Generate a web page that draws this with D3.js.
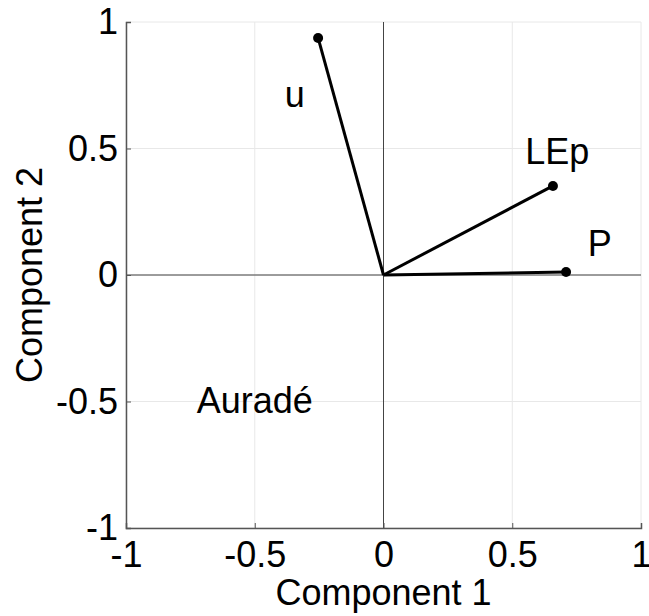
<!DOCTYPE html>
<html><head><meta charset="utf-8">
<script src="https://cdn.jsdelivr.net/npm/d3@7"></script>
<style>body{margin:0;background:#fff}</style>
</head><body>
<svg id="c" width="649" height="616"></svg>
<script>
const names = ["u", "LEp", "P"];
const comp1 = [-0.254, 0.658, 0.709];
const comp2 = [0.937, 0.352, 0.012];
const ticks = [-1, -0.5, 0, 0.5, 1];
const tickLabels = ["-1", "-0.5", "0", "0.5", "1"];
const siteName = "Auradé";
const siteX = -0.5, siteY = -0.545;

const svg = d3.select("#c");
const font = "Liberation Sans, Arial, sans-serif";
const fs = 36;
const x = d3.scaleLinear().domain([-1, 1]).range([126, 641]);
const y = d3.scaleLinear().domain([-1, 1]).range([528, 22]);

// grid
svg.append("g").selectAll("line").data(ticks).join("line")
  .attr("x1", d => x(d)).attr("x2", d => x(d)).attr("y1", y(-1)).attr("y2", y(1))
  .attr("stroke", "#e8e8e8").attr("stroke-width", 1);
svg.append("g").selectAll("line").data(ticks).join("line")
  .attr("y1", d => y(d)).attr("y2", d => y(d)).attr("x1", x(-1)).attr("x2", x(1))
  .attr("stroke", "#e8e8e8").attr("stroke-width", 1);

// zero lines
svg.append("line").attr("x1", x(0)).attr("x2", x(0)).attr("y1", y(-1)).attr("y2", y(1))
  .attr("stroke", "#444").attr("stroke-width", 1);
svg.append("line").attr("y1", y(0)).attr("y2", y(0)).attr("x1", x(-1)).attr("x2", x(1))
  .attr("stroke", "#444").attr("stroke-width", 1);

// axes
const xAxis = d3.axisBottom(x).tickValues(ticks).tickSize(-5).tickFormat((d, i) => tickLabels[i]).tickPadding(13);
const yAxis = d3.axisLeft(y).tickValues(ticks).tickSize(-5).tickFormat((d, i) => tickLabels[i]).tickPadding(8);
const gx = svg.append("g").attr("transform", `translate(0,${y(-1)})`).call(xAxis);
const gy = svg.append("g").attr("transform", `translate(${x(-1)},0)`).call(yAxis);
[gx, gy].forEach(g => {
  g.select(".domain").attr("stroke", "#555").attr("stroke-width", 1.5);
  g.selectAll(".tick line").attr("stroke", "#555");
  g.selectAll("text").attr("font-family", font).attr("font-size", fs).attr("fill", "#000");
});
gx.selectAll("text").attr("dy", "0.72em");

// titles
svg.append("text").attr("x", (x(-1) + x(1)) / 2).attr("y", 605).attr("text-anchor", "middle")
  .attr("font-family", font).attr("font-size", fs).text("Component 1");
svg.append("text").attr("transform", `translate(42,${(y(-1) + y(1)) / 2}) rotate(-90)`).attr("text-anchor", "middle")
  .attr("font-family", font).attr("font-size", fs).text("Component 2");

// vectors
const data = names.map((n, i) => ({ n, a: comp1[i], b: comp2[i] }));
svg.append("g").selectAll("line").data(data).join("line")
  .attr("x1", x(0)).attr("y1", y(0)).attr("x2", d => x(d.a)).attr("y2", d => y(d.b))
  .attr("stroke", "#000").attr("stroke-width", 3);
svg.append("g").selectAll("circle").data(data).join("circle")
  .attr("cx", d => x(d.a)).attr("cy", d => y(d.b)).attr("r", 5).attr("fill", "#000");

// labels
const labelPos = { u: [-0.345, 0.665], LEp: [0.675, 0.44], P: [0.84, 0.075] };
svg.append("g").selectAll("text").data(data).join("text")
  .attr("x", d => x(labelPos[d.n][0])).attr("y", d => y(labelPos[d.n][1]))
  .attr("text-anchor", "middle").attr("font-family", font).attr("font-size", fs)
  .text(d => d.n);

svg.append("text").attr("x", x(siteX)).attr("y", y(siteY)).attr("text-anchor", "middle")
  .attr("font-family", font).attr("font-size", fs).text(siteName);
</script>
</body></html>
